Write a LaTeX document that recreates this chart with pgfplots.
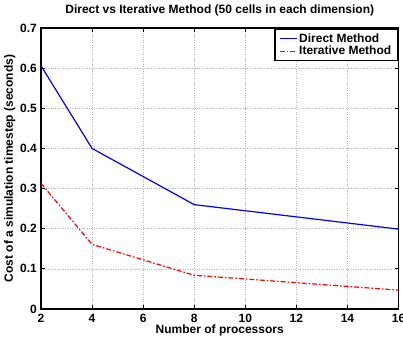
\documentclass[border=0pt]{standalone}
\usepackage{fontspec}
\setmainfont{Liberation Sans}
\usepackage{pgfplots}
\pgfplotsset{compat=1.18}
\usetikzlibrary{calc}
\begin{document}
\begin{tikzpicture}
\begin{axis}[
  name=ax,
  scale only axis,
  width=357.5pt, height=281pt,
  xmin=2, xmax=16, ymin=0, ymax=0.7,
  xtick={2,4,...,16}, ytick={0,0.1,0.2,0.3,0.4,0.5,0.6,0.7},
  xticklabel={\bfseries\pgfmathprintnumber[assume math mode=true]{\tick}},
  yticklabel={\bfseries\pgfmathprintnumber[assume math mode=true,fixed,precision=1]{\tick}},
  tick label style={font=\fontsize{12}{13}\selectfont\bfseries},
  label style={font=\fontsize{12}{13}\selectfont\bfseries},
  title style={font=\fontsize{12}{13}\selectfont\bfseries, at={(axis description cs:0.5,1.032)}, anchor=base},
  title={Direct vs Iterative Method (50 cells in each dimension)},
  xlabel={Number of processors},
  ylabel={Cost of a simulation timestep (seconds)},
  xlabel style={at={(axis description cs:0.5,-0.0854)}, anchor=base},
  ylabel style={at={(axis description cs:-0.087,0.5)}, anchor=center},
  xticklabel style={anchor=base, inner sep=0pt, yshift=-13pt},
  yticklabel style={anchor=east, inner sep=0pt, xshift=-4pt},
  tick align=inside,
  major tick length=4pt,
  axis line style={line width=1.3pt},
  grid=major,
  major grid style={gray!60, dotted, line width=0.6pt},
  tick style={black, line width=0.8pt},
  legend style={at={(0.998,0.997)}, anchor=north east, draw=black, line width=1.1pt,
    font=\fontsize{12}{13}\selectfont\bfseries, inner xsep=4pt, inner ysep=2pt, row sep=-1.5pt},
  legend cell align=left,
  legend image post style={line width=1.2pt},
]
\addplot[blue, line width=1.2pt] coordinates {(2,0.606) (4,0.40) (8,0.26) (16,0.199)};
\addlegendentry{Direct Method}
\addplot[red, line width=1.2pt, dash pattern=on 5pt off 2pt on 1.5pt off 2pt] coordinates {(2,0.313) (4,0.161) (8,0.084) (16,0.047)};
\addlegendentry{Iterative Method}
\end{axis}
\pgfresetboundingbox
\useasboundingbox ($(ax.south west)+(-41pt,-28pt)$) rectangle ($(ax.north east)+(4.5pt,28pt)$);
\end{tikzpicture}
\end{document}
